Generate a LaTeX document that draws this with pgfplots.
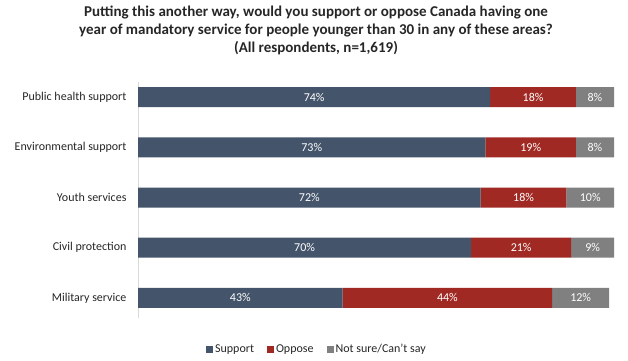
\documentclass[border=0pt]{standalone}
\usepackage{pgfplots}
\pgfplotsset{compat=1.18}
\usepackage{pgfplotstable}
\usepackage{fontspec}
\setmainfont{Carlito}
\definecolor{cSup}{HTML}{44546A}
\definecolor{cOpp}{HTML}{A02A23}
\definecolor{cNS}{HTML}{808080}
\pgfplotstableread{
pos support oppose notsure
0 74 18 8
1 73 19 8
2 72 18 10
3 70 21 9
4 43 44 12
}\datatable
\begin{document}
\begin{tikzpicture}
\path[use as bounding box] (0pt,0pt) rectangle (628pt,-360pt);
\node[font=\fontsize{15}{18}\selectfont\bfseries, align=center, text=black!85] at (316pt,-30pt)
 {Putting this another way, would you support or oppose Canada having one\\
  year of mandatory service for people younger than 30 in any of these areas?\\
  (All respondents, n=1,619)};
\begin{axis}[
  at={(138pt,-318pt)}, anchor=south west, scale only axis,
  width=476pt, height=236pt,
  xbar stacked, bar width=20pt,
  xmin=0, xmax=100, ymin=-0.3, ymax=4.4, y dir=reverse,
  axis x line=none, axis y line*=left,
  y axis line style={draw=black!15},
  ytick={0,1,2,3,4},
  yticklabels={Public health support,Environmental support,Youth services,Civil protection,Military service},
  major tick length=0pt,
  yticklabel style={font=\fontsize{12}{14}\selectfont, text=black!85, xshift=-8pt},
  legend image code/.code={\fill[#1] (0pt,-3.5pt) rectangle (7pt,3.5pt);},
  legend style={at={(0.376,-0.132)}, anchor=center, draw=none, fill=none,
    font=\fontsize{12}{14}\selectfont, text=black!85,
    /tikz/every even column/.append style={column sep=11pt},
    nodes={inner xsep=2pt}},
  legend columns=3,
]
\addplot[fill=cSup, draw=none] table[x=support, y=pos] {\datatable};
\addplot[fill=cOpp, draw=none] table[x=oppose, y=pos] {\datatable};
\addplot[fill=cNS, draw=none] table[x=notsure, y=pos] {\datatable};
\legend{Support, Oppose, Not sure/Can't say}
\end{axis}
\begin{axis}[
  at={(138pt,-318pt)}, anchor=south west, scale only axis,
  width=476pt, height=236pt,
  xmin=0, xmax=100, ymin=-0.3, ymax=4.4, y dir=reverse,
  hide axis, clip=false,
  nodes near coords={\pgfmathprintnumber[assume math mode=true]{\pgfplotspointmeta}\%},
  point meta=explicit,
  every node near coord/.style={anchor=center, font=\fontsize{12}{14}\selectfont, text=white},
]
\addplot[only marks, mark=*, mark size=0pt, draw=none, fill=none] table[x expr=\thisrow{support}/2, y=pos, meta=support] {\datatable};
\addplot[only marks, mark=*, mark size=0pt, draw=none, fill=none] table[x expr=\thisrow{support}+\thisrow{oppose}/2, y=pos, meta=oppose] {\datatable};
\addplot[only marks, mark=*, mark size=0pt, draw=none, fill=none] table[x expr=\thisrow{support}+\thisrow{oppose}+\thisrow{notsure}/2, y=pos, meta=notsure] {\datatable};
\end{axis}
\end{tikzpicture}
\end{document}
